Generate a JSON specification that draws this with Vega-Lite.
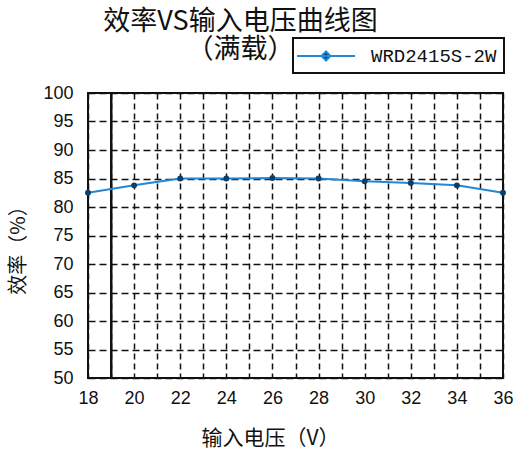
{
  "$schema": "https://vega.github.io/schema/vega-lite/v6.json",
  "width": 415,
  "height": 285,
  "autosize": {"type": "none"},
  "padding": {"left": 88, "top": 93, "right": 16, "bottom": 75},
  "background": "white",
  "title": {
    "text": ["效率VS输入电压曲线图", "（满载）"],
    "font": "Noto Sans CJK SC",
    "fontSize": 27,
    "fontWeight": "normal",
    "lineHeight": 28,
    "color": "#111",
    "anchor": "middle",
    "dx": -55,
    "dy": 57,
    "offset": 30
  },
  "data": {
    "values": [
      {"v": 18, "eff": 82.5, "series": "WRD2415S-2W"},
      {"v": 20, "eff": 83.8, "series": "WRD2415S-2W"},
      {"v": 22, "eff": 85.0, "series": "WRD2415S-2W"},
      {"v": 24, "eff": 85.0, "series": "WRD2415S-2W"},
      {"v": 26, "eff": 85.1, "series": "WRD2415S-2W"},
      {"v": 28, "eff": 85.0, "series": "WRD2415S-2W"},
      {"v": 30, "eff": 84.5, "series": "WRD2415S-2W"},
      {"v": 32, "eff": 84.2, "series": "WRD2415S-2W"},
      {"v": 34, "eff": 83.8, "series": "WRD2415S-2W"},
      {"v": 36, "eff": 82.5, "series": "WRD2415S-2W"}
    ]
  },
  "encoding": {
    "x": {
      "field": "v",
      "type": "quantitative",
      "scale": {"domain": [18, 36], "nice": false, "zero": false},
      "axis": {
        "values": [18,19,20,21,22,23,24,25,26,27,28,29,30,31,32,33,34,35,36],
        "labelExpr": "datum.value % 2 == 0 ? datum.label : ''",
        "grid": true,
        "gridColor": "#111",
        "gridDash": [6, 4],
        "gridWidth": 1.5,
        "domain": false,
        "ticks": false,
        "labelPadding": 11,
        "labelFont": "Liberation Sans",
        "labelFontSize": 18,
        "labelColor": "#111",
        "labelFlush": false,
        "title": "输入电压（V）",
        "titleFont": "Noto Sans CJK SC",
        "titleFontSize": 21,
        "titleFontWeight": "normal",
        "titleColor": "#111",
        "titleX": 182,
        "titleY": 60,
        "titleBaseline": "middle",
        "titleAnchor": "middle"
      }
    },
    "y": {
      "field": "eff",
      "type": "quantitative",
      "scale": {"domain": [50, 100], "nice": false, "zero": false},
      "axis": {
        "values": [50,55,60,65,70,75,80,85,90,95,100],
        "grid": true,
        "gridColor": "#111",
        "gridDash": [7, 4],
        "gridWidth": 1.5,
        "domain": false,
        "ticks": false,
        "labelPadding": 15,
        "labelFont": "Liberation Sans",
        "labelFontSize": 18,
        "labelColor": "#111",
        "labelFlush": false,
        "title": "效率（%）",
        "titleFont": "Noto Sans CJK SC",
        "titleFontSize": 20,
        "titleFontWeight": "normal",
        "titleColor": "#111",
        "titleX": -70,
        "titleY": 152,
        "titleAngle": -90,
        "titleBaseline": "middle",
        "titleAnchor": "middle"
      }
    }
  },
  "layer": [
    {
      "mark": {"type": "rule", "color": "#111", "strokeWidth": 2},
      "encoding": {"x": {"datum": 19}, "y": {"datum": 50}, "y2": {"datum": 100}}
    },
    {
      "mark": {"type": "line", "strokeWidth": 2},
      "encoding": {
        "color": {
          "field": "series",
          "type": "nominal",
          "scale": {"range": ["#1f88d8"]},
          "legend": {
            "orient": "none",
            "legendX": 205,
            "legendY": -55,
            "title": null,
            "strokeColor": "#111",
            "padding": 7,
            "symbolType": "M-2.9,0L2.9,0M-0.45,0L0,-0.45L0.45,0L0,0.45Z",
            "symbolSize": 400,
            "symbolOffset": 15,
            "symbolStrokeWidth": 2,
            "symbolFillColor": "#0b3f6b",
            "labelOffset": 34,
            "labelFont": "Liberation Mono",
            "labelFontWeight": "normal",
            "labelFontSize": 19,
            "labelColor": "#111"
          }
        }
      }
    },
    {
      "mark": {"type": "point", "filled": true, "shape": "circle", "size": 35, "color": "#0b3f6b", "opacity": 1}
    }
  ],
  "config": {
    "view": {"stroke": "#111", "strokeWidth": 2},
    "legend": {"strokeWidth": 2}
  }
}
